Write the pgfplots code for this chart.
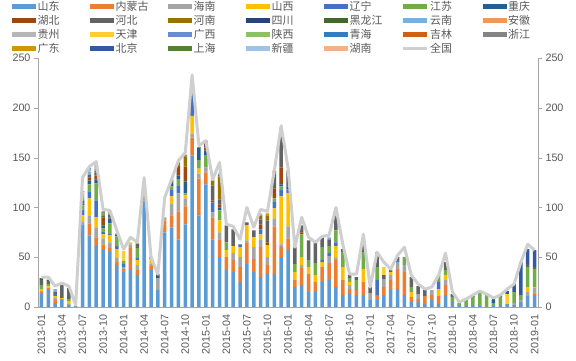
\documentclass[border=0pt]{standalone}
\usepackage{pgfplots}
\usepackage{pgfplotstable}
\pgfplotsset{compat=1.18}
\usepackage{fontspec}
\setmainfont{Liberation Sans}
\newfontfamily\cjk{Noto Sans CJK SC}
\definecolor{c1}{HTML}{5B9BD5}
\definecolor{c2}{HTML}{ED7D31}
\definecolor{c3}{HTML}{A5A5A5}
\definecolor{c4}{HTML}{FFC000}
\definecolor{c5}{HTML}{4472C4}
\definecolor{c6}{HTML}{70AD47}
\definecolor{c7}{HTML}{255E91}
\definecolor{c8}{HTML}{9E480E}
\definecolor{c9}{HTML}{636363}
\definecolor{c10}{HTML}{997300}
\definecolor{c11}{HTML}{264478}
\definecolor{c12}{HTML}{43682B}
\definecolor{c13}{HTML}{7CAFDD}
\definecolor{c14}{HTML}{F1975A}
\definecolor{c15}{HTML}{B7B7B7}
\definecolor{c16}{HTML}{FFCD33}
\definecolor{c17}{HTML}{698ED0}
\definecolor{c18}{HTML}{8CC168}
\definecolor{c19}{HTML}{327DC2}
\definecolor{c20}{HTML}{D26012}
\definecolor{c21}{HTML}{848484}
\definecolor{c22}{HTML}{CC9A00}
\definecolor{c23}{HTML}{335AA1}
\definecolor{c24}{HTML}{548235}
\definecolor{c25}{HTML}{9DC3E6}
\definecolor{c26}{HTML}{F4B183}
\definecolor{lineg}{HTML}{CFCFCF}
\definecolor{axgray}{HTML}{A6A6A6}
\definecolor{txt}{HTML}{595959}

\pgfplotsset{
  barleg/.style={legend image code/.code={\fill[##1] (0bp,-2.5bp) rectangle (24bp,2.5bp);}},
  lineleg/.style={legend image code/.code={\draw[##1] (0bp,0bp) -- (24bp,0bp);}},
}

\pgfplotstableread{
i SD NMG HAN SX LN JS CQ HUB HEB HEN SC HLJ YN AH GZ TJ GX SHX QH JL ZJ GD BJ SH XJ HUN TOT
0 13 2 1 2 0 4 0 0 5 0 0 2 0 0 0 0 0 0 0 0 0 0 0 0 0 0 30
1 17 2 0 2 0 2 0 0 3 0 0 1 0 0 0 1 0 0 0 0 0 0 0 0 0 0 30
2 4 3 2 2 2 0 0 0 2 0 0 0 3 0 0 0 0 0 0 0 0 0 0 0 0 0 21
3 7 1 0 1 0 0 0 0 14 0 0 0 0 0 0 0 0 0 0 0 0 0 0 0 0 0 24
4 2 0 1 3 0 2 0 0 11 0 0 0 0 0 0 0 0 0 0 0 0 0 0 0 0 0 21
5 1 0 0 0 0 0 0 0 0 0 0 0 0 0 0 0 0 0 0 0 0 0 0 0 0 0 2
6 83 0 3 6 6 4 2 0 3 0 0 0 3 0 3 2 0 0 1 0 0 0 0 0 0 0 130
7 72 12 8 17 7 7 4 3 3 0 0 0 3 0 2 0 2 0 0 0 0 0 0 0 0 0 141
8 61 9 10 10 17 17 4 4 3 2 0 0 2 0 2 0 0 0 0 0 1 0 0 0 1 0 146
9 58 5 6 4 3 3 3 8 2 1 0 0 0 0 0 0 0 0 1 0 2 0 0 0 0 0 98
10 55 4 6 7 2 10 5 1 3 0 0 0 0 0 1 0 0 0 0 0 0 0 0 1 0 0 97
11 42 3 4 9 3 10 2 0 0 0 0 0 0 0 0 0 0 0 0 0 0 0 0 0 0 1 77
12 35 3 2 0 3 3 0 0 0 0 0 0 0 0 0 10 0 0 0 0 0 0 0 0 0 0 58
13 37 22 4 2 0 0 0 0 0 0 0 0 0 0 0 0 0 0 0 0 0 0 0 0 0 0 70
14 32 5 5 5 2 10 0 0 5 0 0 0 0 0 0 0 0 0 0 0 0 0 0 0 0 0 65
15 107 5 0 0 0 0 0 0 0 0 0 0 0 0 0 0 0 0 0 0 0 0 0 0 0 0 130
16 37 4 2 5 2 0 0 0 0 0 0 0 0 0 0 0 0 0 0 0 0 0 0 0 0 0 50
17 17 0 12 0 0 0 2 0 2 0 0 0 0 0 0 0 0 0 0 0 0 0 0 0 0 0 33
18 75 12 3 0 0 0 0 0 0 0 0 0 0 0 0 0 0 0 0 0 0 0 0 0 0 0 110
19 80 12 12 7 7 3 4 0 3 0 0 0 0 0 0 0 0 0 0 0 0 0 0 0 0 0 128
20 68 28 18 0 8 6 4 10 0 3 0 0 0 0 1 0 0 0 0 0 0 0 0 0 0 0 147
21 83 18 8 3 0 2 12 15 0 10 0 0 0 0 0 0 0 0 1 1 0 0 0 0 0 0 155
22 152 18 4 18 20 5 3 0 3 0 0 0 2 0 0 0 2 2 0 0 0 0 0 0 0 0 233
23 92 37 5 5 0 8 13 0 0 0 0 0 0 1 0 0 0 0 0 0 0 0 0 0 0 0 162
24 123 12 5 0 0 12 5 3 5 2 0 0 0 0 0 0 0 0 0 0 0 0 0 0 0 0 167
25 68 22 5 0 10 0 0 2 15 5 0 0 0 0 0 0 0 0 0 0 0 1 0 0 0 0 128
26 50 18 7 12 0 10 3 3 5 23 0 0 0 0 0 0 0 0 0 0 0 0 0 2 2 0 145
27 37 13 0 7 0 8 0 0 17 0 0 0 0 0 0 0 0 0 0 0 0 0 0 0 0 0 83
28 35 12 7 7 0 0 0 0 17 0 0 0 0 0 0 0 0 0 0 0 0 0 0 0 0 0 81
29 25 15 10 10 2 0 1 0 0 0 0 0 0 0 0 0 0 0 0 0 0 0 0 0 0 0 68
30 43 22 2 15 0 0 0 0 3 0 0 0 0 0 0 0 0 0 0 0 0 0 0 0 0 0 100
31 35 13 12 10 0 0 0 0 7 0 0 0 0 0 0 0 0 0 0 0 0 0 0 0 0 0 80
32 30 30 8 5 5 0 0 5 5 4 0 0 0 0 2 0 0 0 0 0 0 0 0 0 0 0 98
33 34 8 8 12 0 0 0 3 22 5 0 0 0 0 0 0 0 0 0 0 0 2 0 0 0 0 96
34 33 48 8 10 7 3 0 10 15 3 0 0 0 0 0 0 0 0 0 0 0 0 0 0 0 0 137
35 50 10 3 48 7 3 2 17 38 2 0 0 0 0 0 0 0 0 0 0 0 0 0 0 0 0 182
36 57 12 12 33 4 0 3 0 14 0 0 0 0 0 0 0 0 0 0 0 2 0 0 0 0 0 140
37 20 7 0 8 0 8 0 0 17 0 0 0 0 0 0 0 0 0 0 0 0 0 0 0 0 0 60
38 22 17 3 8 0 23 0 2 7 0 0 0 0 0 0 0 0 0 0 0 0 0 0 0 0 0 90
39 15 18 0 7 0 7 0 0 20 0 0 0 0 0 0 0 0 0 0 0 0 0 0 0 0 0 70
40 15 10 0 7 0 12 0 0 21 0 0 0 0 0 0 0 0 0 0 0 0 0 0 0 0 0 65
41 25 15 0 5 2 13 0 0 10 0 0 0 0 0 0 0 0 0 0 0 0 0 0 0 0 0 71
42 27 17 7 0 3 7 0 0 7 0 0 0 2 0 0 0 0 0 0 0 0 0 0 0 0 0 72
43 20 27 2 12 4 12 0 0 20 0 0 0 0 0 0 0 0 0 0 1 0 0 0 0 0 0 100
44 12 15 0 13 0 15 0 0 3 0 0 0 0 0 0 0 0 0 0 0 0 0 0 0 0 0 63
45 13 5 4 3 0 4 0 0 3 0 0 0 0 0 0 0 0 0 0 0 0 0 0 0 0 0 33
46 12 5 0 0 0 10 0 0 3 0 0 0 0 0 0 0 0 0 0 0 0 0 0 0 0 0 33
47 12 13 0 13 0 17 0 0 7 0 0 0 0 0 0 0 0 0 0 0 0 0 0 0 0 0 73
48 7 0 7 0 0 0 0 0 6 0 0 0 0 0 0 0 0 0 0 0 0 0 0 0 0 0 20
49 7 5 0 0 15 13 0 0 15 0 0 0 0 0 0 0 0 0 0 0 0 0 0 0 0 0 55
50 12 8 8 0 0 0 0 0 4 0 0 0 0 0 0 8 0 0 0 0 0 0 0 0 0 0 45
51 17 10 5 3 0 0 0 0 2 0 0 0 0 0 0 0 0 0 0 0 0 0 0 0 0 0 38
52 18 20 7 0 2 0 0 0 3 0 0 0 0 0 0 0 0 0 0 0 0 0 0 0 0 0 52
53 12 23 7 0 0 8 0 0 0 0 0 0 0 0 0 0 0 0 0 0 0 0 0 0 0 0 60
54 5 5 0 5 0 5 0 0 10 0 0 0 0 0 0 0 0 0 0 0 0 0 0 0 0 0 32
55 5 3 5 0 0 0 0 0 8 0 0 0 0 0 0 0 0 0 0 0 0 0 0 0 0 0 23
56 3 8 0 0 0 0 0 0 7 0 0 0 0 0 0 0 0 0 0 0 0 0 0 0 0 0 18
57 7 5 5 0 0 0 0 0 0 0 0 0 0 0 0 0 0 0 0 0 0 0 0 0 0 0 20
58 3 8 0 7 7 7 0 0 0 0 0 0 0 0 0 0 0 0 0 0 0 0 0 0 0 0 32
59 12 10 5 5 0 5 0 0 8 0 0 0 0 0 0 0 0 0 0 0 0 0 0 0 0 0 54
60 5 0 0 0 0 5 0 0 3 0 0 0 0 0 0 0 0 0 0 0 0 0 0 0 0 0 15
61 2 0 0 0 0 2 0 0 0 0 0 0 0 0 0 0 0 0 0 0 0 0 0 0 0 0 5
62 1 0 0 0 0 7 0 0 0 0 0 0 0 0 0 0 0 0 0 0 0 0 0 0 0 0 8
63 2 0 0 0 0 8 1 0 0 0 0 0 0 0 0 0 0 0 0 0 0 0 0 0 0 0 12
64 2 0 0 0 0 12 0 0 0 0 0 0 0 0 0 0 0 0 0 0 0 0 0 0 0 0 16
65 0 0 0 0 0 12 0 0 0 0 0 0 0 0 0 0 0 0 0 0 0 0 0 0 0 0 13
66 2 0 0 0 0 2 3 0 0 0 2 0 0 0 0 0 0 0 0 0 0 0 0 0 0 0 9
67 2 0 0 0 0 8 0 0 2 0 0 0 0 0 0 0 0 0 0 0 0 0 0 0 0 0 12
68 3 0 0 0 0 0 0 0 0 0 0 0 0 0 0 10 0 0 0 0 0 0 3 0 0 0 18
69 2 0 2 0 0 11 0 0 0 0 0 0 0 0 0 0 0 0 0 0 0 0 8 0 0 0 23
70 5 0 2 0 0 5 0 0 0 0 0 0 0 0 0 0 0 0 0 0 0 0 33 0 0 0 45
71 11 0 4 5 0 20 0 0 3 0 0 0 0 0 0 0 0 0 0 0 0 0 15 0 0 0 63
72 12 1 6 1 0 18 0 0 2 0 0 0 0 0 0 0 0 0 0 0 0 0 17 0 0 0 57
}\data

\newcommand\LE[1]{\makebox[51bp][l]{#1}}

\begin{document}
\begin{tikzpicture}
\useasboundingbox (-38bp,-54bp) rectangle (538bp,307bp);
\begin{axis}[
  at={(0,0)}, anchor=south west,
  width=500bp, height=249bp, scale only axis,
  xmin=-0.5, xmax=72.5, ymin=0, ymax=250,
  ybar stacked, bar width=3.5bp,
  axis x line*=bottom, axis y line*=left,
  axis line style={draw=axgray, -},
  ytick={0,50,...,250},
  xtick={0,3,...,72},
  xticklabels={2013-01,2013-04,2013-07,2013-10,2014-01,2014-04,2014-07,2014-10,2015-01,2015-04,2015-07,2015-10,2016-01,2016-04,2016-07,2016-10,2017-01,2017-04,2017-07,2017-10,2018-01,2018-04,2018-07,2018-10,2019-01},
  xtick style={draw=none},
  ytick style={draw=axgray},
  tick align=outside, major tick length=4bp,
  xticklabel style={rotate=90, anchor=east, font=\fontsize{10.8}{12}\selectfont, text=txt},
  yticklabel style={font=\fontsize{10.8}{12}\selectfont, text=txt},
  /pgf/number format/assume math mode=true,
  legend columns=7,
  legend cell align=left,
  barleg,
  legend style={draw=none, fill=none, inner sep=0pt, anchor=north west,
    at={(-0.052,1.235)}, font=\cjk\fontsize{11}{12}\selectfont, text=txt,
    row sep=0.3bp, column sep=0pt, nodes={inner sep=1.5bp}},
]
\addplot[fill=c1, draw=none] table[x=i,y=SD]{\data}; \addlegendentry{\LE{山东}}
\addplot[fill=c2, draw=none] table[x=i,y=NMG]{\data}; \addlegendentry{\LE{内蒙古}}
\addplot[fill=c3, draw=none] table[x=i,y=HAN]{\data}; \addlegendentry{\LE{海南}}
\addplot[fill=c4, draw=none] table[x=i,y=SX]{\data}; \addlegendentry{\LE{山西}}
\addplot[fill=c5, draw=none] table[x=i,y=LN]{\data}; \addlegendentry{\LE{辽宁}}
\addplot[fill=c6, draw=none] table[x=i,y=JS]{\data}; \addlegendentry{\LE{江苏}}
\addplot[fill=c7, draw=none] table[x=i,y=CQ]{\data}; \addlegendentry{\LE{重庆}}
\addplot[fill=c8, draw=none] table[x=i,y=HUB]{\data}; \addlegendentry{\LE{湖北}}
\addplot[fill=c9, draw=none] table[x=i,y=HEB]{\data}; \addlegendentry{\LE{河北}}
\addplot[fill=c10, draw=none] table[x=i,y=HEN]{\data}; \addlegendentry{\LE{河南}}
\addplot[fill=c11, draw=none] table[x=i,y=SC]{\data}; \addlegendentry{\LE{四川}}
\addplot[fill=c12, draw=none] table[x=i,y=HLJ]{\data}; \addlegendentry{\LE{黑龙江}}
\addplot[fill=c13, draw=none] table[x=i,y=YN]{\data}; \addlegendentry{\LE{云南}}
\addplot[fill=c14, draw=none] table[x=i,y=AH]{\data}; \addlegendentry{\LE{安徽}}
\addplot[fill=c15, draw=none] table[x=i,y=GZ]{\data}; \addlegendentry{\LE{贵州}}
\addplot[fill=c16, draw=none] table[x=i,y=TJ]{\data}; \addlegendentry{\LE{天津}}
\addplot[fill=c17, draw=none] table[x=i,y=GX]{\data}; \addlegendentry{\LE{广西}}
\addplot[fill=c18, draw=none] table[x=i,y=SHX]{\data}; \addlegendentry{\LE{陕西}}
\addplot[fill=c19, draw=none] table[x=i,y=QH]{\data}; \addlegendentry{\LE{青海}}
\addplot[fill=c20, draw=none] table[x=i,y=JL]{\data}; \addlegendentry{\LE{吉林}}
\addplot[fill=c21, draw=none] table[x=i,y=ZJ]{\data}; \addlegendentry{\LE{浙江}}
\addplot[fill=c22, draw=none] table[x=i,y=GD]{\data}; \addlegendentry{\LE{广东}}
\addplot[fill=c23, draw=none] table[x=i,y=BJ]{\data}; \addlegendentry{\LE{北京}}
\addplot[fill=c24, draw=none] table[x=i,y=SH]{\data}; \addlegendentry{\LE{上海}}
\addplot[fill=c25, draw=none] table[x=i,y=XJ]{\data}; \addlegendentry{\LE{新疆}}
\addplot[fill=c26, draw=none] table[x=i,y=HUN]{\data}; \addlegendentry{\LE{湖南}}
\addlegendimage{lineleg, draw=lineg, line width=2.5bp}
\addlegendentry{\LE{全国}}
\end{axis}
\begin{axis}[
  at={(0,0)}, anchor=south west,
  width=500bp, height=249bp, scale only axis,
  xmin=-0.5, xmax=72.5, ymin=0, ymax=250,
  axis x line=none, axis y line*=right,
  axis line style={draw=axgray, -},
  ytick={0,50,...,250},
  ytick style={draw=axgray},
  tick align=outside, major tick length=4bp,
  yticklabel style={font=\fontsize{10.8}{12}\selectfont, text=txt},
  /pgf/number format/assume math mode=true,
]
\addplot[draw=lineg, line width=3bp, line join=round] table[x=i,y=TOT]{\data};
\end{axis}
\end{tikzpicture}
\end{document}
